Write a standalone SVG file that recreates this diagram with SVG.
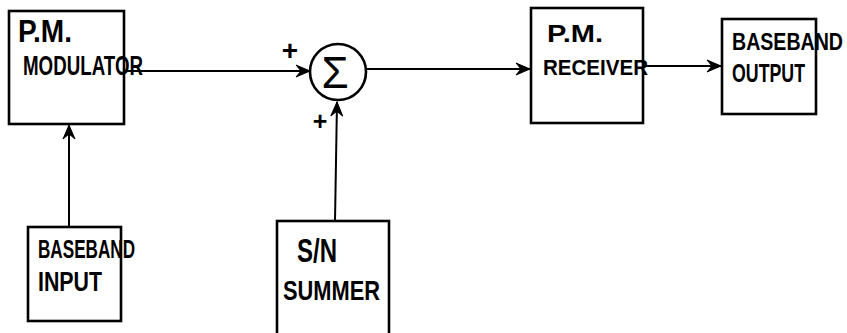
<svg xmlns="http://www.w3.org/2000/svg" width="847" height="333" viewBox="0 0 847 333">
<style>
.box{fill:#fff;stroke:#000;stroke-width:2.6}
.ln{fill:none;stroke:#000;stroke-width:2}
.t{font-family:"Liberation Sans",Arial,sans-serif;font-weight:bold;fill:#000}
</style>
<defs>
<marker id="ah" viewBox="0 0 16 14" refX="15" refY="7" markerWidth="16" markerHeight="14" markerUnits="userSpaceOnUse" orient="auto">
<path d="M1,1 L15,7 L1,13 L6,7 Z" fill="#000" stroke="#000" stroke-width="1"/>
</marker>
</defs>
<g id="connectors">
<line class="ln" x1="124" y1="71" x2="310" y2="71" marker-end="url(#ah)"/>
<line class="ln" x1="367" y1="69" x2="530" y2="69" marker-end="url(#ah)"/>
<line class="ln" x1="643" y1="66" x2="721" y2="66" marker-end="url(#ah)"/>
<line class="ln" x1="69" y1="227" x2="69" y2="125" marker-end="url(#ah)"/>
<line class="ln" x1="335" y1="221" x2="337" y2="102" marker-end="url(#ah)"/>
<text class="t" x="290" y="60" text-anchor="middle" style="font-size:28px">+</text>
<text class="t" x="320" y="130" text-anchor="middle" style="font-size:25px">+</text>
</g>
<g id="pm-modulator">
<rect class="box" x="9" y="11" width="115" height="113"/>
<text class="t" x="18" y="42" textLength="54" lengthAdjust="spacingAndGlyphs" style="font-size:31px">P.M.</text>
<text class="t" x="23" y="75" textLength="120" lengthAdjust="spacingAndGlyphs" style="font-size:27px">MODULATOR</text>
</g>
<g id="summer">
<circle class="box" cx="338" cy="72" r="28"/>
<text class="t" x="335" y="88" text-anchor="middle" style="font-size:44px;font-weight:normal">Σ</text>
</g>
<g id="pm-receiver">
<rect class="box" x="531" y="8" width="112" height="115"/>
<text class="t" x="547" y="42" textLength="56" lengthAdjust="spacingAndGlyphs" style="font-size:24px">P.M.</text>
<text class="t" x="543" y="75" textLength="105" lengthAdjust="spacingAndGlyphs" style="font-size:22px">RECEIVER</text>
</g>
<g id="baseband-output">
<rect class="box" x="722" y="19" width="94" height="95"/>
<text class="t" x="732" y="50" textLength="111" lengthAdjust="spacingAndGlyphs" style="font-size:24px">BASEBAND</text>
<text class="t" x="732" y="82" textLength="73" lengthAdjust="spacingAndGlyphs" style="font-size:25px">OUTPUT</text>
</g>
<g id="baseband-input">
<rect class="box" x="28" y="227" width="93" height="94"/>
<text class="t" x="38" y="258" textLength="97" lengthAdjust="spacingAndGlyphs" style="font-size:26px">BASEBAND</text>
<text class="t" x="38" y="291" textLength="64" lengthAdjust="spacingAndGlyphs" style="font-size:27px">INPUT</text>
</g>
<g id="sn-summer">
<rect class="box" x="277" y="221" width="112" height="120"/>
<text class="t" x="297" y="262" textLength="40" lengthAdjust="spacingAndGlyphs" style="font-size:34px">S/N</text>
<text class="t" x="283" y="300" textLength="97" lengthAdjust="spacingAndGlyphs" style="font-size:28px">SUMMER</text>
</g>
</svg>
